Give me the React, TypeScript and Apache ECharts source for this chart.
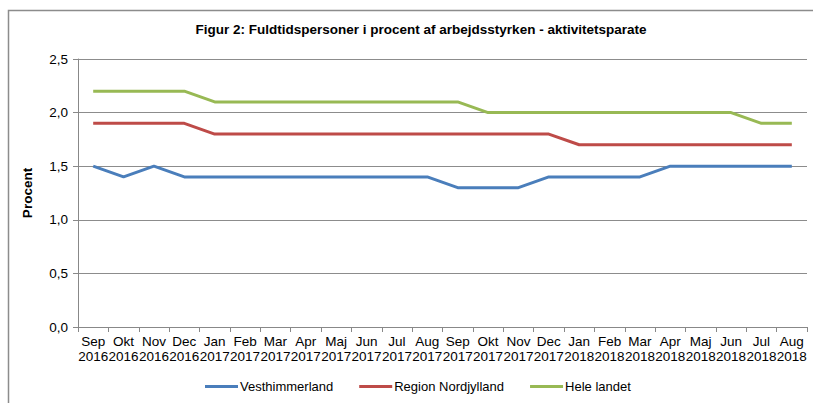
import React, { useEffect, useRef } from "react";
import * as echarts from "echarts";

const months = ["Sep", "Okt", "Nov", "Dec", "Jan", "Feb", "Mar", "Apr", "Maj", "Jun", "Jul", "Aug",
  "Sep", "Okt", "Nov", "Dec", "Jan", "Feb", "Mar", "Apr", "Maj", "Jun", "Jul", "Aug"];
const years = ["2016", "2016", "2016", "2016", "2017", "2017", "2017", "2017", "2017", "2017", "2017", "2017",
  "2017", "2017", "2017", "2017", "2018", "2018", "2018", "2018", "2018", "2018", "2018", "2018"];
const categories = months.map((m, i) => m + "\n" + years[i]);

const vesthimmerland = [1.5, 1.4, 1.5, 1.4, 1.4, 1.4, 1.4, 1.4, 1.4, 1.4, 1.4, 1.4,
  1.3, 1.3, 1.3, 1.4, 1.4, 1.4, 1.4, 1.5, 1.5, 1.5, 1.5, 1.5];
const regionNordjylland = [1.9, 1.9, 1.9, 1.9, 1.8, 1.8, 1.8, 1.8, 1.8, 1.8, 1.8, 1.8,
  1.8, 1.8, 1.8, 1.8, 1.7, 1.7, 1.7, 1.7, 1.7, 1.7, 1.7, 1.7];
const heleLandet = [2.2, 2.2, 2.2, 2.2, 2.1, 2.1, 2.1, 2.1, 2.1, 2.1, 2.1, 2.1,
  2.1, 2.0, 2.0, 2.0, 2.0, 2.0, 2.0, 2.0, 2.0, 2.0, 1.9, 1.9];

const seriesNames = ["Vesthimmerland", "Region Nordjylland", "Hele landet"];
const seriesColors = ["#4a7ebb", "#be4b48", "#98b954"];
const seriesData = [vesthimmerland, regionNordjylland, heleLandet];

const FONT = "Liberation Sans, Arial, sans-serif";

export default function App() {
  const ref = useRef<HTMLDivElement>(null);
  useEffect(() => {
    document.body.style.margin = "0";
    if (!ref.current) return;
    const chart = echarts.init(ref.current, undefined, { renderer: "svg" });
    chart.setOption({
      animation: false,
      textStyle: { fontFamily: FONT },
      title: {
        text: "Figur 2: Fuldtidspersoner i procent af arbejdsstyrken - aktivitetsparate",
        left: 416,
        textAlign: "center",
        top: 17,
        textStyle: { fontSize: 13.5, fontWeight: "bold", color: "#000", fontFamily: FONT },
      },
      graphic: [
        {
          type: "rect",
          shape: { x: 8.5, y: 10.5, width: 900, height: 500 },
          style: { fill: "none", stroke: "#8c8c8c", lineWidth: 1.5 },
          silent: true,
        },
      ],
      legend: {
        left: 200,
        top: 375,
        icon: "rect",
        itemWidth: 33,
        itemHeight: 3,
        itemGap: 26,
        textStyle: { fontSize: 13, color: "#000", fontFamily: FONT, padding: [0, 0, 0, -3] },
        data: seriesNames,
      },
      grid: { left: 78, right: 6, top: 59, bottom: 76, containLabel: false },
      xAxis: {
        type: "category",
        data: categories,
        boundaryGap: true,
        axisLine: { lineStyle: { color: "#888", width: 1 } },
        axisTick: { show: true, length: 5, lineStyle: { color: "#888" } },
        axisLabel: {
          interval: 0,
          fontSize: 13.5,
          color: "#000",
          lineHeight: 15,
          margin: 7,
          fontFamily: FONT,
        },
      },
      yAxis: {
        type: "value",
        min: 0,
        max: 2.5,
        interval: 0.5,
        name: "Procent",
        nameLocation: "middle",
        nameGap: 44,
        nameTextStyle: { fontSize: 13.5, fontWeight: "bold", color: "#000", fontFamily: FONT },
        axisLine: { show: true, lineStyle: { color: "#888" } },
        axisTick: { show: true, length: 5, lineStyle: { color: "#888" } },
        splitLine: { lineStyle: { color: "#8c8c8c", width: 1 } },
        axisLabel: {
          fontSize: 13.5,
          color: "#000",
          margin: 10,
          fontFamily: FONT,
          formatter: (v: number) => v.toFixed(1).replace(".", ","),
        },
      },
      series: seriesNames.map((name, i) => ({
        name,
        type: "line",
        data: seriesData[i],
        showSymbol: false,
        symbol: "none",
        itemStyle: { color: seriesColors[i] },
        lineStyle: { color: seriesColors[i], width: 3 },
      })),
    });
    return () => chart.dispose();
  }, []);
  return <div ref={ref} style={{ width: 813, height: 403 }} />;
}
